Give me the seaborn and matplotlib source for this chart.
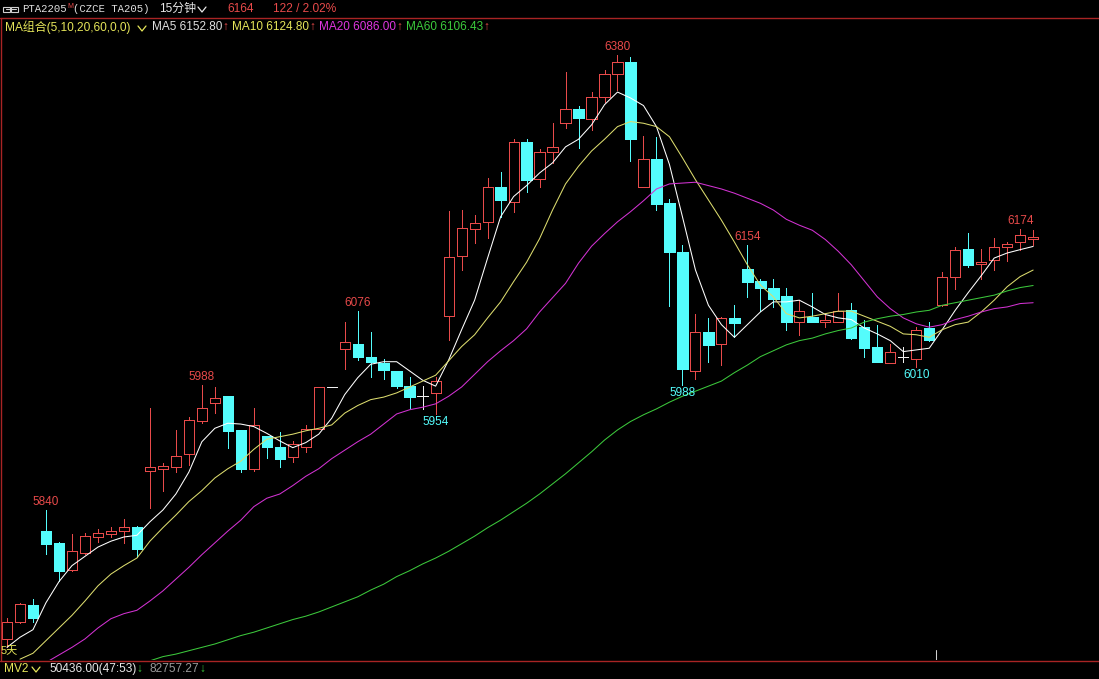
import numpy as np
import pandas as pd
import matplotlib
matplotlib.use("Agg")
import matplotlib.pyplot as plt
from matplotlib.lines import Line2D
from matplotlib.patches import Rectangle
import seaborn as sns

# PTA2205 (CZCE TA205), 15-minute bars
opens = [5687, 5707, 5727, 5815, 5801, 5769, 5789, 5808, 5812, 5815,
         5820, 5886, 5889, 5891, 5906, 5946, 5967, 5975, 5935, 5889,
         5928, 5915, 5903, 5915, 5936, 5986, 6031, 6037, 6022, 6014,
         6005, 5987, 5975, 5979, 6070, 6141, 6174, 6182, 6223, 6206,
         6277, 6233, 6265, 6299, 6316, 6304, 6330, 6357, 6372, 6223,
         6257, 6204, 6146, 6005, 6051, 6037, 6068, 6126, 6112, 6104,
         6094, 6063, 6069, 6063, 6063, 6077, 6057, 6034, 6014, 6022,
         6019, 6056, 6083, 6117, 6150, 6132, 6137, 6152, 6158, 6162]
highs = [5712, 5730, 5734, 5840, 5802, 5812, 5813, 5818, 5820, 5829,
         5821, 5961, 5896, 5935, 5950, 5988, 5986, 5975, 5935, 5961,
         5928, 5933, 5922, 5941, 5986, 5986, 6063, 6076, 6051, 6019,
         6005, 5998, 5987, 5998, 6195, 6196, 6190, 6234, 6241, 6280,
         6280, 6268, 6299, 6360, 6320, 6336, 6362, 6380, 6378, 6284,
         6283, 6209, 6155, 6073, 6068, 6069, 6083, 6154, 6114, 6114,
         6104, 6089, 6098, 6074, 6098, 6086, 6066, 6060, 6037, 6034,
         6057, 6063, 6123, 6152, 6169, 6150, 6163, 6158, 6174, 6172]
lows = [5677, 5706, 5707, 5788, 5756, 5768, 5788, 5802, 5808, 5801,
        5784, 5842, 5863, 5885, 5893, 5943, 5955, 5914, 5885, 5886,
        5902, 5891, 5897, 5909, 5936, 5986, 6007, 6018, 5998, 5996,
        5985, 5961, 5960, 5954, 6042, 6125, 6157, 6163, 6188, 6194,
        6217, 6223, 6252, 6293, 6270, 6291, 6324, 6338, 6254, 6223,
        6196, 6082, 5988, 5996, 6016, 6012, 6045, 6093, 6076, 6081,
        6054, 6048, 6066, 6057, 6063, 6043, 6022, 6016, 6014, 6016,
        6010, 6041, 6082, 6102, 6128, 6114, 6125, 6136, 6149, 6155]
closes = [5707, 5728, 5712, 5800, 5768, 5791, 5809, 5813, 5815, 5820,
          5794, 5891, 5892, 5904, 5947, 5961, 5973, 5934, 5889, 5941,
          5915, 5901, 5918, 5936, 5986, 5986, 6039, 6022, 6016, 6006,
          5987, 5974, 5975, 5993, 6140, 6175, 6181, 6223, 6208, 6277,
          6232, 6265, 6271, 6316, 6305, 6330, 6357, 6372, 6280, 6257,
          6203, 6146, 6007, 6051, 6036, 6068, 6062, 6111, 6104, 6090,
          6063, 6076, 6063, 6066, 6076, 6044, 6032, 6016, 6028, 6022,
          6054, 6042, 6117, 6149, 6131, 6134, 6152, 6156, 6166, 6164]

nan = np.nan
ma5 = [5677, 5689, 5698, 5730, 5755, 5774, 5785, 5796, 5803, 5808,
       5810, 5826, 5840, 5859, 5885, 5921, 5937, 5943, 5942, 5939,
       5931, 5922, 5914, 5920, 5930, 5949, 5977, 5997, 6013, 6016,
       6016, 6005, 5994, 5987, 6018, 6054, 6089, 6139, 6188, 6212,
       6225, 6240, 6252, 6271, 6280, 6297, 6321, 6336, 6329, 6320,
       6295, 6250, 6188, 6125, 6083, 6060, 6045, 6060, 6075, 6087,
       6087, 6089, 6081, 6072, 6068, 6066, 6056, 6049, 6041, 6028,
       6030, 6032, 6054, 6077, 6098, 6118, 6139, 6145, 6149, 6152.80]
ma10 = [nan, 5663, 5670, 5685, 5700, 5715, 5732, 5750, 5764, 5774,
        5783, 5803, 5819, 5834, 5850, 5863, 5878, 5889, 5898, 5912,
        5924, 5927, 5930, 5934, 5937, 5941, 5955, 5964, 5971, 5974,
        5979, 5986, 5993, 6000, 6017, 6034, 6048, 6068, 6087, 6111,
        6134, 6162, 6196, 6227, 6248, 6266, 6280, 6295, 6301, 6299,
        6295, 6283, 6258, 6232, 6208, 6184, 6158, 6131, 6107, 6093,
        6073, 6068, 6070, 6073, 6076, 6076, 6070, 6064, 6058, 6049,
        6048, 6045, 6054, 6060, 6063, 6075, 6089, 6105, 6117, 6124.80]
ma20 = [nan, nan, nan, 5659, 5668, 5677, 5687, 5700, 5711, 5717,
        5721, 5732, 5744, 5758, 5772, 5787, 5801, 5815, 5828, 5844,
        5854, 5859, 5869, 5880, 5889, 5901, 5911, 5921, 5930, 5942,
        5954, 5959, 5962, 5966, 5975, 5986, 6001, 6016, 6029, 6041,
        6055, 6075, 6092, 6109, 6133, 6153, 6168, 6182, 6194, 6207,
        6221, 6227, 6228, 6229, 6225, 6221, 6216, 6210, 6204, 6196,
        6185, 6178, 6172, 6161, 6147, 6131, 6112, 6093, 6079, 6068,
        6061, 6057, 6060, 6066, 6070, 6075, 6079, 6081, 6085, 6086.00]
ma60 = [nan, nan, nan, nan, nan, nan, nan, nan, nan, nan,
        5656, 5661, 5666, 5669, 5673, 5677, 5681, 5686, 5691, 5695,
        5700, 5705, 5710, 5714, 5719, 5725, 5731, 5737, 5745, 5752,
        5761, 5768, 5776, 5783, 5791, 5800, 5809, 5819, 5828, 5838,
        5848, 5859, 5871, 5883, 5896, 5909, 5923, 5935, 5945, 5953,
        5960, 5968, 5975, 5981, 5987, 5993, 6003, 6012, 6022, 6029,
        6036, 6041, 6044, 6049, 6053, 6056, 6063, 6067, 6070, 6072,
        6075, 6077, 6083, 6086, 6089, 6092, 6095, 6100, 6104, 6106.43]

ma_names = ["MA5", "MA10", "MA20", "MA60"]
high_marks = [3, 15, 27, 47, 57, 78]
low_marks = [33, 52, 70]
prev_settle = 6042
mv2_values = ["50436.00(47:53)", "82757.27"]

RED = "#E84A4A"
CYAN = "#54FCFC"
WHITE = "#F0F0F0"
YELLOW = "#E6E65A"
MAGENTA = "#E036E0"
GREEN = "#3CCB3C"
FRAME = "#A82424"
ma_colors = {"MA5": "#FFFFFF", "MA10": "#DCDC6E", "MA20": "#D232D2", "MA60": "#3CC83C"}
legend_colors = {"MA5": "#E0E0E0", "MA10": YELLOW, "MA20": MAGENTA, "MA60": GREEN}

W, H = 1099, 679
sns.set_theme(style="dark", rc={"axes.facecolor": "black", "figure.facecolor": "black"})
plt.rcParams["font.family"] = ["Liberation Sans", "Noto Sans CJK SC", "DejaVu Sans"]

fig = plt.figure(figsize=(W / 100, H / 100), dpi=100, facecolor="black")
ax = fig.add_axes([0, 19 / H, 1, 627 / H])
ax.set_facecolor("black")

o = np.array(opens, float)
h = np.array(highs, float)
l = np.array(lows, float)
c = np.array(closes, float)
n = len(c)
idx = np.arange(n)
up = c > o
down = c < o
flat = c == o
top = np.maximum(o, c)
bot = np.minimum(o, c)
col = np.where(up, RED, np.where(down, CYAN, WHITE))

# wicks (kept outside the hollow bodies)
ax.vlines(idx, top, h, colors=col, lw=0.6, antialiased=False, zorder=2)
ax.vlines(idx, l, bot, colors=col, lw=0.6, antialiased=False, zorder=2)
# falling bars: solid cyan bodies
ax.bar(idx[down], (o - c)[down], bottom=c[down], width=0.8, color=CYAN,
       edgecolor=CYAN, lw=0.4, antialiased=False, zorder=3)
# rising bars: hollow red bodies
ax.bar(idx[up], (c - o)[up], bottom=o[up], width=0.78, facecolor="black",
       edgecolor=RED, lw=0.6, antialiased=False, zorder=3)
# unchanged bars: white dash
ax.hlines(c[flat], idx[flat] - 0.4, idx[flat] + 0.4, colors=WHITE, lw=0.6,
          antialiased=False, zorder=3)

# moving averages
ma_df = pd.DataFrame({
    "bar": np.tile(idx, 4),
    "value": np.concatenate([ma5, ma10, ma20, ma60]),
    "line": np.repeat(ma_names, n),
})
sns.lineplot(data=ma_df, x="bar", y="value", hue="line", palette=ma_colors,
             estimator=None, sort=False, legend=False, lw=0.75, ax=ax, zorder=5)

# extreme price labels
for i in high_marks:
    ax.annotate(f"{highs[i]:.0f}", (i, highs[i]), xytext=(0, 5.8),
                textcoords="offset points", ha="center", va="center",
                color=RED, fontsize=8.5, zorder=6)
for i in low_marks:
    ax.annotate(f"{lows[i]:.0f}", (i, lows[i]), xytext=(0, -5.8),
                textcoords="offset points", ha="center", va="center",
                color=CYAN, fontsize=8.5, zorder=6)

# session tick at the bottom edge
ax.axvline(71.5, ymin=0, ymax=10 / 627, color="#D0D0D0", lw=0.75)

ax.set_xlim(-0.54, 84.07)
ax.set_ylim(5662.0, 6406.1)
ax.axis("off")

fig.canvas.draw()
renderer = fig.canvas.get_renderer()


def fx(x):
    return x / W


def fy(y):
    return 1 - y / H


def ftext(x, y, s, color, size=8.5, **kw):
    return fig.text(fx(x), fy(y), s, color=color, fontsize=size, ha="left",
                    va="center", **kw)


def chain(x, y, parts, gap=1.5):
    """Write text pieces one after another on a row; returns the end x."""
    for s, color, size, kw in parts:
        if s is None:          # a pure horizontal advance
            x += size
            continue
        t = ftext(x, y, s, color, size, **kw)
        x = t.get_window_extent(renderer).x1 + gap
    return x


def chevron(x0, x1, y0, y1, color):
    xm = (x0 + x1) / 2
    fig.add_artist(Line2D([fx(x0), fx(xm), fx(x1)], [fy(y0), fy(y1), fy(y0)],
                          transform=fig.transFigure, color=color, lw=0.9))


def hline(x0, x1, y, color, lw=1.0):
    fig.add_artist(Line2D([fx(x0), fx(x1)], [fy(y), fy(y)],
                          transform=fig.transFigure, color=color, lw=lw))


# frame
hline(0, W, 18, FRAME)
hline(0, W, 660.5, FRAME)
fig.add_artist(Line2D([fx(1), fx(1)], [fy(18), fy(660.5)],
                      transform=fig.transFigure, color=FRAME, lw=1.0))

# header row
for x0 in (3, 11):
    fig.add_artist(Rectangle((fx(x0), fy(11.5)), 7 / W, 5 / H, transform=fig.transFigure,
                             fill=False, ec="#D0D0D0", lw=0.8))
hline(6, 16, 9, "#D0D0D0", 0.8)
mono = {"family": ["Liberation Mono", "DejaVu Sans Mono"]}
xe = chain(22, 9, [("PTA2205", "#E0E0E0", 7.7, mono)], gap=0.5)
ftext(xe, 6, "M", RED, 5.0)
chain(73, 9, [("(CZCE TA205)", "#E0E0E0", 7.7, mono)])
chain(159, 9, [("15分钟", "#E8E8E8", 8.6, {})])
chevron(198, 206, 7, 12, "#E8E8E8")
last = closes[-1]
chg = last - prev_settle
ftext(227, 9, f"{last:.0f}", RED, 8.6)
ftext(273, 9, f"{chg:.0f} / {chg / prev_settle * 100:.2f}%", RED, 8.6)

# indicator legend row
chain(5, 27, [("MA组合(5,10,20,60,0,0)", YELLOW, 8.6, {})])
chevron(138, 146, 26, 31, YELLOW)
parts = []
for name, vals in zip(ma_names, [ma5, ma10, ma20, ma60]):
    parts.append((f"{name} {vals[-1]:.2f}", legend_colors[name], 8.5, {}))
    parts.append(("↑", RED, 8.5, {}))
    parts.append((None, None, 3, None))
chain(152, 27, parts, gap=0.5)

# volume indicator row
chain(4, 669, [("MV2", YELLOW, 8.6, {})])
chevron(32, 40, 667, 672, YELLOW)
chain(49, 669, [(mv2_values[0], "#E8E8E8", 8.6, {}), ("↓", GREEN, 8.6, {}),
                (None, None, 6, None), (mv2_values[1], "#9A9A9A", 8.6, {}),
                ("↓", GREEN, 8.6, {})], gap=0.5)

# period tag
ftext(1, 651, "5天", YELLOW, 8)

fig.savefig("out.png", dpi=100, facecolor="black")
